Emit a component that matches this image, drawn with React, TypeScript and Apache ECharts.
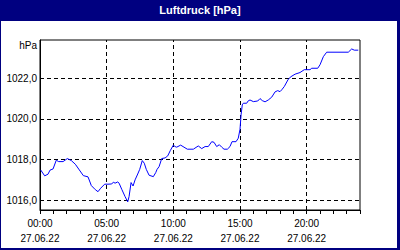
import React, { useEffect, useRef } from "react";
import * as echarts from "echarts";

const TITLE = "Luftdruck [hPa]";
const UNIT = "hPa";
const DATE_LABEL = "27.06.22";

// time in hours since 00:00
const hours = [
  0.05, 0.35, 0.6, 0.75, 0.98, 1.22, 1.4, 1.73, 2.05, 2.35, 2.65, 2.95, 3.25, 3.6, 3.85, 4.15, 4.35, 4.55, 4.85, 5.1,
  5.38, 5.5, 5.63, 5.83, 5.93, 6.13, 6.38, 6.58, 6.68, 6.83, 6.98, 7.13, 7.33, 7.48, 7.67, 7.82, 7.97, 8.18, 8.5, 8.68,
  8.78, 8.93, 9.13, 9.38, 9.58, 9.77, 10.0, 10.13, 10.25, 10.55, 10.8, 11.05, 11.5, 11.87, 12.13, 12.38, 12.62, 12.88,
  13.05, 13.25, 13.45, 13.63, 13.8, 14.05, 14.25, 14.4, 14.7, 14.87, 15.0, 15.08, 15.17, 15.25, 15.5, 15.62, 15.75,
  16.0, 16.33, 16.5, 16.67, 16.88, 17.12, 17.38, 17.63, 17.83, 18.0, 18.13, 18.32, 18.62, 18.83, 19.13, 19.5, 19.82,
  20.25, 20.38, 20.83, 21.0, 21.25, 21.5, 23.12, 23.38, 23.57, 23.87,
];

// pressure in hPa
const pressure = [
  1017.49, 1017.2, 1017.28, 1017.48, 1017.54, 1017.97, 1017.9, 1017.9, 1018.05, 1017.95, 1017.77, 1017.49, 1017.21,
  1017.15, 1016.72, 1016.52, 1016.42, 1016.59, 1016.79, 1016.79, 1016.8, 1016.89, 1016.84, 1016.9, 1016.84, 1016.54,
  1016.18, 1015.92, 1016.18, 1016.87, 1016.7, 1017.0, 1017.29, 1017.52, 1017.95, 1017.82, 1017.52, 1017.23, 1017.16,
  1017.36, 1017.52, 1017.65, 1018.05, 1018.08, 1018.18, 1018.44, 1018.71, 1018.64, 1018.61, 1018.71, 1018.61, 1018.51,
  1018.51, 1018.67, 1018.54, 1018.64, 1018.64, 1018.88, 1018.85, 1018.64, 1018.73, 1018.61, 1018.51, 1018.51, 1018.64,
  1018.88, 1018.88, 1019.05, 1019.49, 1020.2, 1020.69, 1020.77, 1020.77, 1020.89, 1020.93, 1020.85, 1020.88, 1021.0,
  1020.9, 1020.84, 1020.93, 1021.07, 1021.33, 1021.39, 1021.34, 1021.43, 1021.59, 1021.95, 1022.08, 1022.2, 1022.28,
  1022.42, 1022.42, 1022.49, 1022.49, 1022.66, 1023.06, 1023.28, 1023.28, 1023.44, 1023.38, 1023.38,
];

const yTicks = [1016, 1018, 1020, 1022];
const xGridHours = [5, 10, 15, 20];
const xLabelHours = [0, 5, 10, 15, 20];

const FONT = "'Liberation Sans', Arial, sans-serif";

export default function App() {
  const ref = useRef<HTMLDivElement>(null);

  useEffect(() => {
    document.body.style.margin = "0";
    if (!ref.current) return;
    const chart = echarts.init(ref.current, undefined, { renderer: "svg" });
    const dash = { color: "#000", width: 1, type: [4, 3] as any };
    chart.setOption({
      animation: false,
      backgroundColor: "#000080",
      graphic: [
        { type: "rect", z: -10, shape: { x: 1, y: 21, width: 396, height: 227 }, style: { fill: "#ffffff" } },
        {
          type: "text",
          x: 200,
          y: 10,
          style: {
            text: TITLE,
            fill: "#ffffff",
            font: `bold 11px ${FONT}`,
            align: "center",
            verticalAlign: "middle",
          },
        },
        {
          type: "text",
          x: 37,
          y: 45.5,
          style: { text: UNIT, fill: "#000", font: `10px ${FONT}`, align: "right", verticalAlign: "middle" },
        },
      ],
      grid: {
        left: 40,
        top: 40,
        width: 320,
        height: 170,
        show: true,
        borderColor: "#000",
        borderWidth: 1,
        backgroundColor: "transparent",
      },
      xAxis: {
        type: "value",
        min: 0,
        max: 24,
        interval: 1,
        axisLine: { show: true, lineStyle: { color: "#000", width: 1 } },
        axisTick: { show: true, length: 4, lineStyle: { color: "#000" } },
        splitLine: { show: false },
        axisLabel: {
          customValues: xLabelHours,
          margin: 6,
          color: "#000",
          fontFamily: FONT,
          fontSize: 10,
          lineHeight: 15,
          formatter: (v: number) => `${String(v).padStart(2, "0")}:00\n${DATE_LABEL}`,
        },
      },
      yAxis: {
        type: "value",
        min: 1015.52,
        max: 1023.88,
        axisLine: { show: true, lineStyle: { color: "#000", width: 1 } },
        axisTick: { show: false },
        splitLine: { show: false },
        axisLabel: {
          customValues: yTicks,
          margin: 3,
          color: "#000",
          fontFamily: FONT,
          fontSize: 10,
          formatter: (v: number) => v.toFixed(1).replace(".", ","),
        },
      },
      series: [
        {
          type: "line",
          z: 1,
          data: [],
          markLine: {
            silent: true,
            symbol: "none",
            label: { show: false },
            lineStyle: dash,
            data: [
              ...yTicks.map((v) => ({ yAxis: v })),
              ...xGridHours.map((v) => ({ xAxis: v })),
            ],
          },
        },
        {
          type: "line",
          z: 5,
          showSymbol: false,
          symbol: "none",
          lineStyle: { color: "#0000ff", width: 1 },
          data: hours.map((h, i) => [h, pressure[i]]),
        },
      ],
    });
    return () => chart.dispose();
  }, []);

  return <div ref={ref} style={{ width: 400, height: 250 }} />;
}
